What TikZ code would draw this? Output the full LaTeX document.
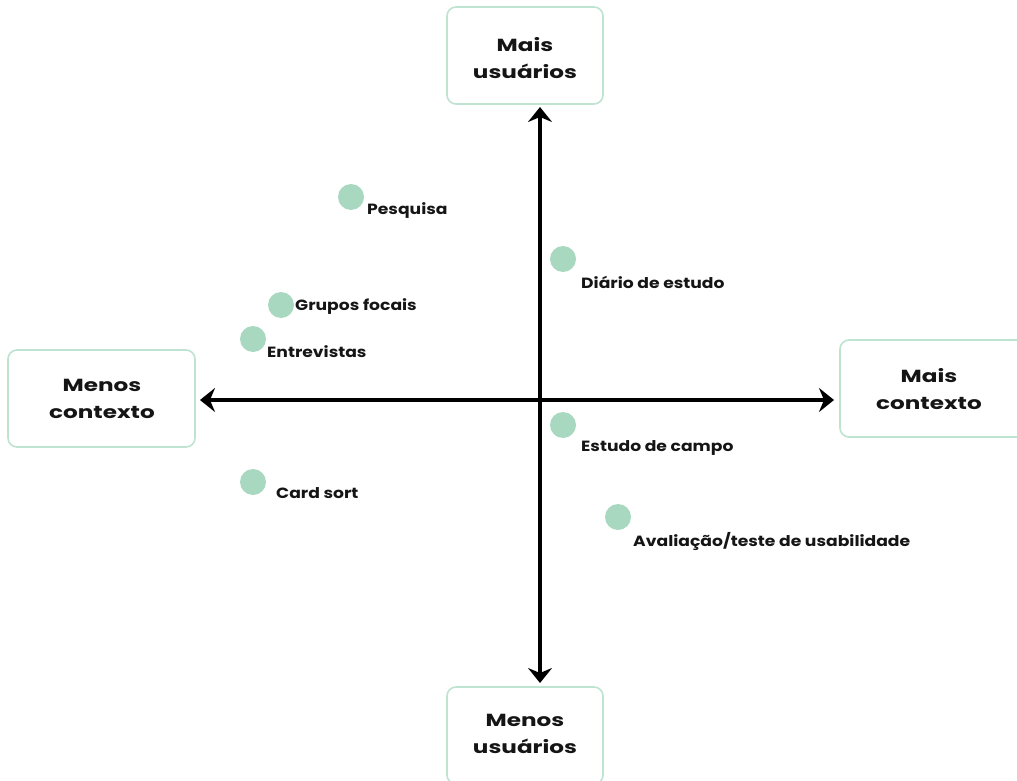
\documentclass[tikz,border=0pt]{standalone}
\usepackage{fontspec}
\setmainfont{Poppins}[UprightFont=*-Regular,BoldFont=*-Bold]
\newfontfamily\lblfont{Poppins}[UprightFont=*-Bold,FakeStretch=1.16]
\newfontfamily\boxfont{Poppins}[UprightFont=*-Bold,FakeStretch=1.32]
\usetikzlibrary{arrows.meta}
\definecolor{mint}{HTML}{A9D8C1}
\definecolor{boxline}{HTML}{BFE3D1}
\definecolor{ink}{HTML}{151515}
\begin{document}
\begin{tikzpicture}[x=1pt,y=-1pt,
  axisbox/.style={draw=boxline,line width=1.6pt,rounded corners=9pt,fill=white,inner sep=0pt},
  boxtext/.style={align=center,font=\boxfont\fontsize{17.5}{27}\selectfont,text=ink,inner sep=0pt},
  dot/.style={circle,fill=mint,minimum size=26pt,inner sep=0pt},
  lbl/.style={anchor=west,font=\lblfont\fontsize{14.8}{16}\selectfont,text=ink,inner sep=0pt},
  axis/.style={line width=4.8pt,draw=black,{Stealth[length=15pt,width=24pt,inset=5pt]}-{Stealth[length=15pt,width=24pt,inset=5pt]}}]
\useasboundingbox (0,0) rectangle (1017,781);
\clip (0,0) rectangle (1017,781);
% boxes
\node[axisbox,minimum width=156pt,minimum height=97pt] (top) at (525,55.5) {};
\node[boxtext] (toplbl) at (525,58) {Mais\\usuários};
\node[axisbox,minimum width=187pt,minimum height=97pt] (left) at (101.5,398.5) {};
\node[boxtext] (leftlbl) at (102,399) {Menos\\contexto};
\node[axisbox,minimum width=190pt,minimum height=97pt] (rightbox) at (935,388.5) {};
\node[boxtext] (rightlbl) at (929,389) {Mais\\contexto};
\node[axisbox,minimum width=156pt,minimum height=97pt] (bottom) at (525,735.5) {};
\node[boxtext] (bottomlbl) at (525,734) {Menos\\usuários};
% axes
\coordinate (vt) at (540,107);
\coordinate (vb) at (540,683);
\coordinate (hl) at (200,400);
\coordinate (hr) at (834,400);
\draw[axis] (vb) -- (vt);
\draw[axis] (hl) -- (hr);
% dots
\node[dot] (d1) at (351,197) {};
\node[lbl] (l1) at (367,211) {Pesquisa};
\node[dot] (d2) at (563,259) {};
\node[lbl] (l2) at (581,282) {Diário de estudo};
\node[dot] (d3) at (281,305) {};
\node[lbl] (l3) at (295,307) {Grupos focais};
\node[dot] (d4) at (253,339) {};
\node[lbl] (l4) at (267,352) {Entrevistas};
\node[dot] (d5) at (563,425) {};
\node[lbl] (l5) at (581,448) {Estudo de campo};
\node[dot] (d6) at (253,482) {};
\node[lbl] (l6) at (276,493) {Card sort};
\node[dot] (d7) at (618,517) {};
\node[lbl] (l7) at (633,541) {Avaliação/teste de usabilidade};
\end{tikzpicture}
\end{document}
